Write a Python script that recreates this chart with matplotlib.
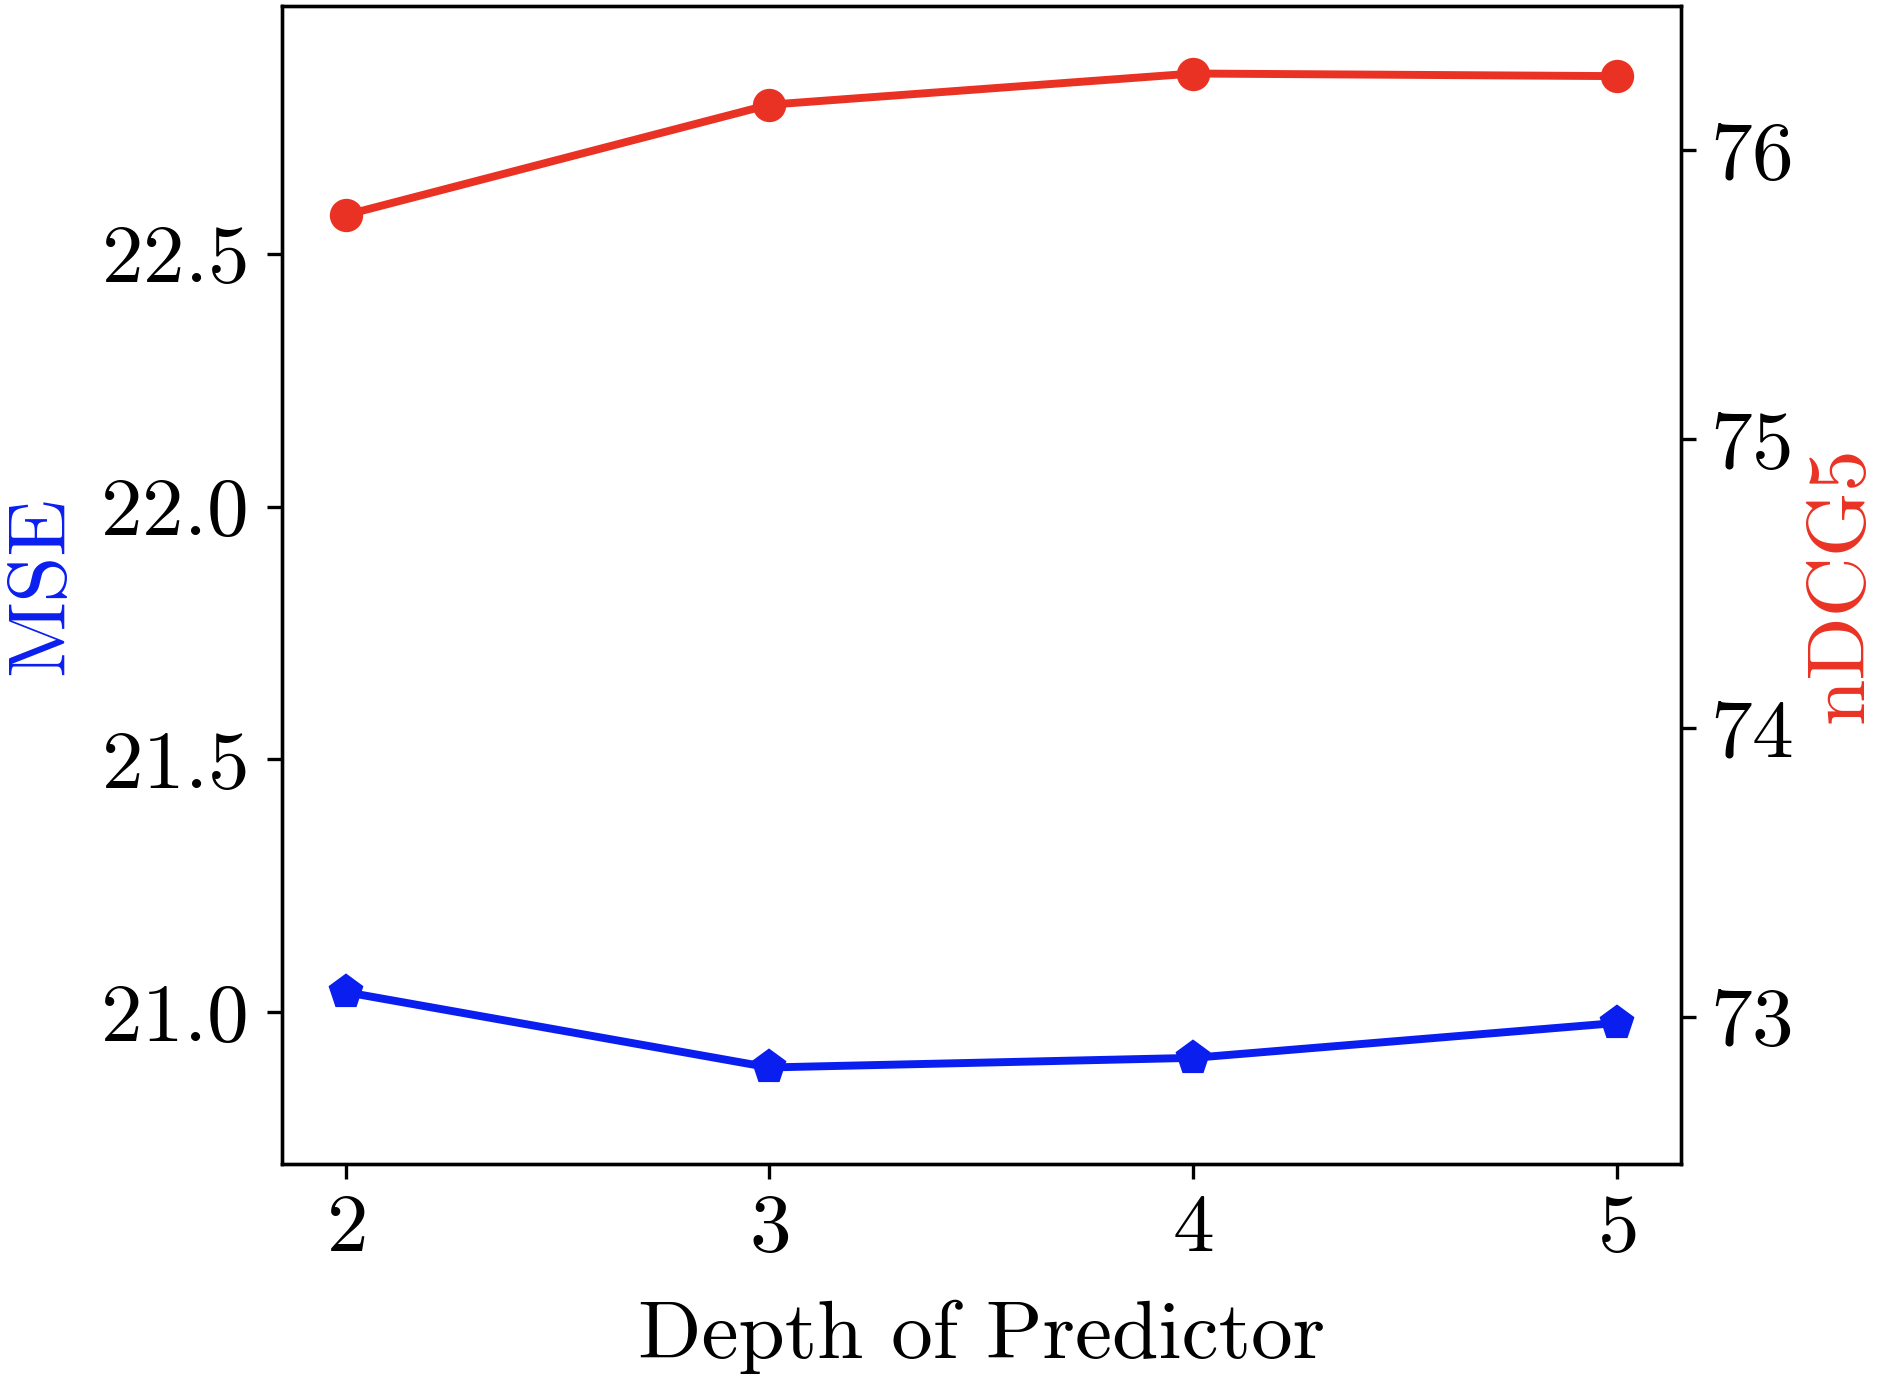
import matplotlib
matplotlib.use("Agg")
import matplotlib.pyplot as plt

plt.rcParams["font.family"] = "cmr10"
plt.rcParams["axes.formatter.use_mathtext"] = True
plt.rcParams["font.size"] = 20

depths = [2, 3, 4, 5]
mse = [21.04, 20.891, 20.91, 20.979]
ndcg5 = [75.776, 76.158, 76.266, 76.257]

blue = "#0a1ef0"
red = "#e93224"

fig = plt.figure(figsize=(1884 / 300, 1382 / 300), dpi=300)
ax1 = fig.add_axes([0.1497, 0.1577, 0.7423, 0.838])
ax2 = ax1.twinx()

ax1.plot(depths, mse, color=blue, marker="p", markersize=7.5, linewidth=1.9)
ax2.plot(depths, ndcg5, color=red, marker="o", markersize=7, linewidth=1.9)

ax1.set_ylim(20.70, 22.99)
ax2.set_ylim(72.49, 76.5)
ax1.set_yticks([21.0, 21.5, 22.0, 22.5])
ax2.set_yticks([73, 74, 75, 76])
ax1.set_xticks(depths)
ax1.tick_params(axis="y", pad=5)

ax1.set_xlabel("Depth of Predictor", labelpad=8)
ax1.set_ylabel("MSE", color=blue, labelpad=5)
ax2.set_ylabel("nDCG5", color=red, labelpad=3)

fig.savefig("out.png", dpi=300)
